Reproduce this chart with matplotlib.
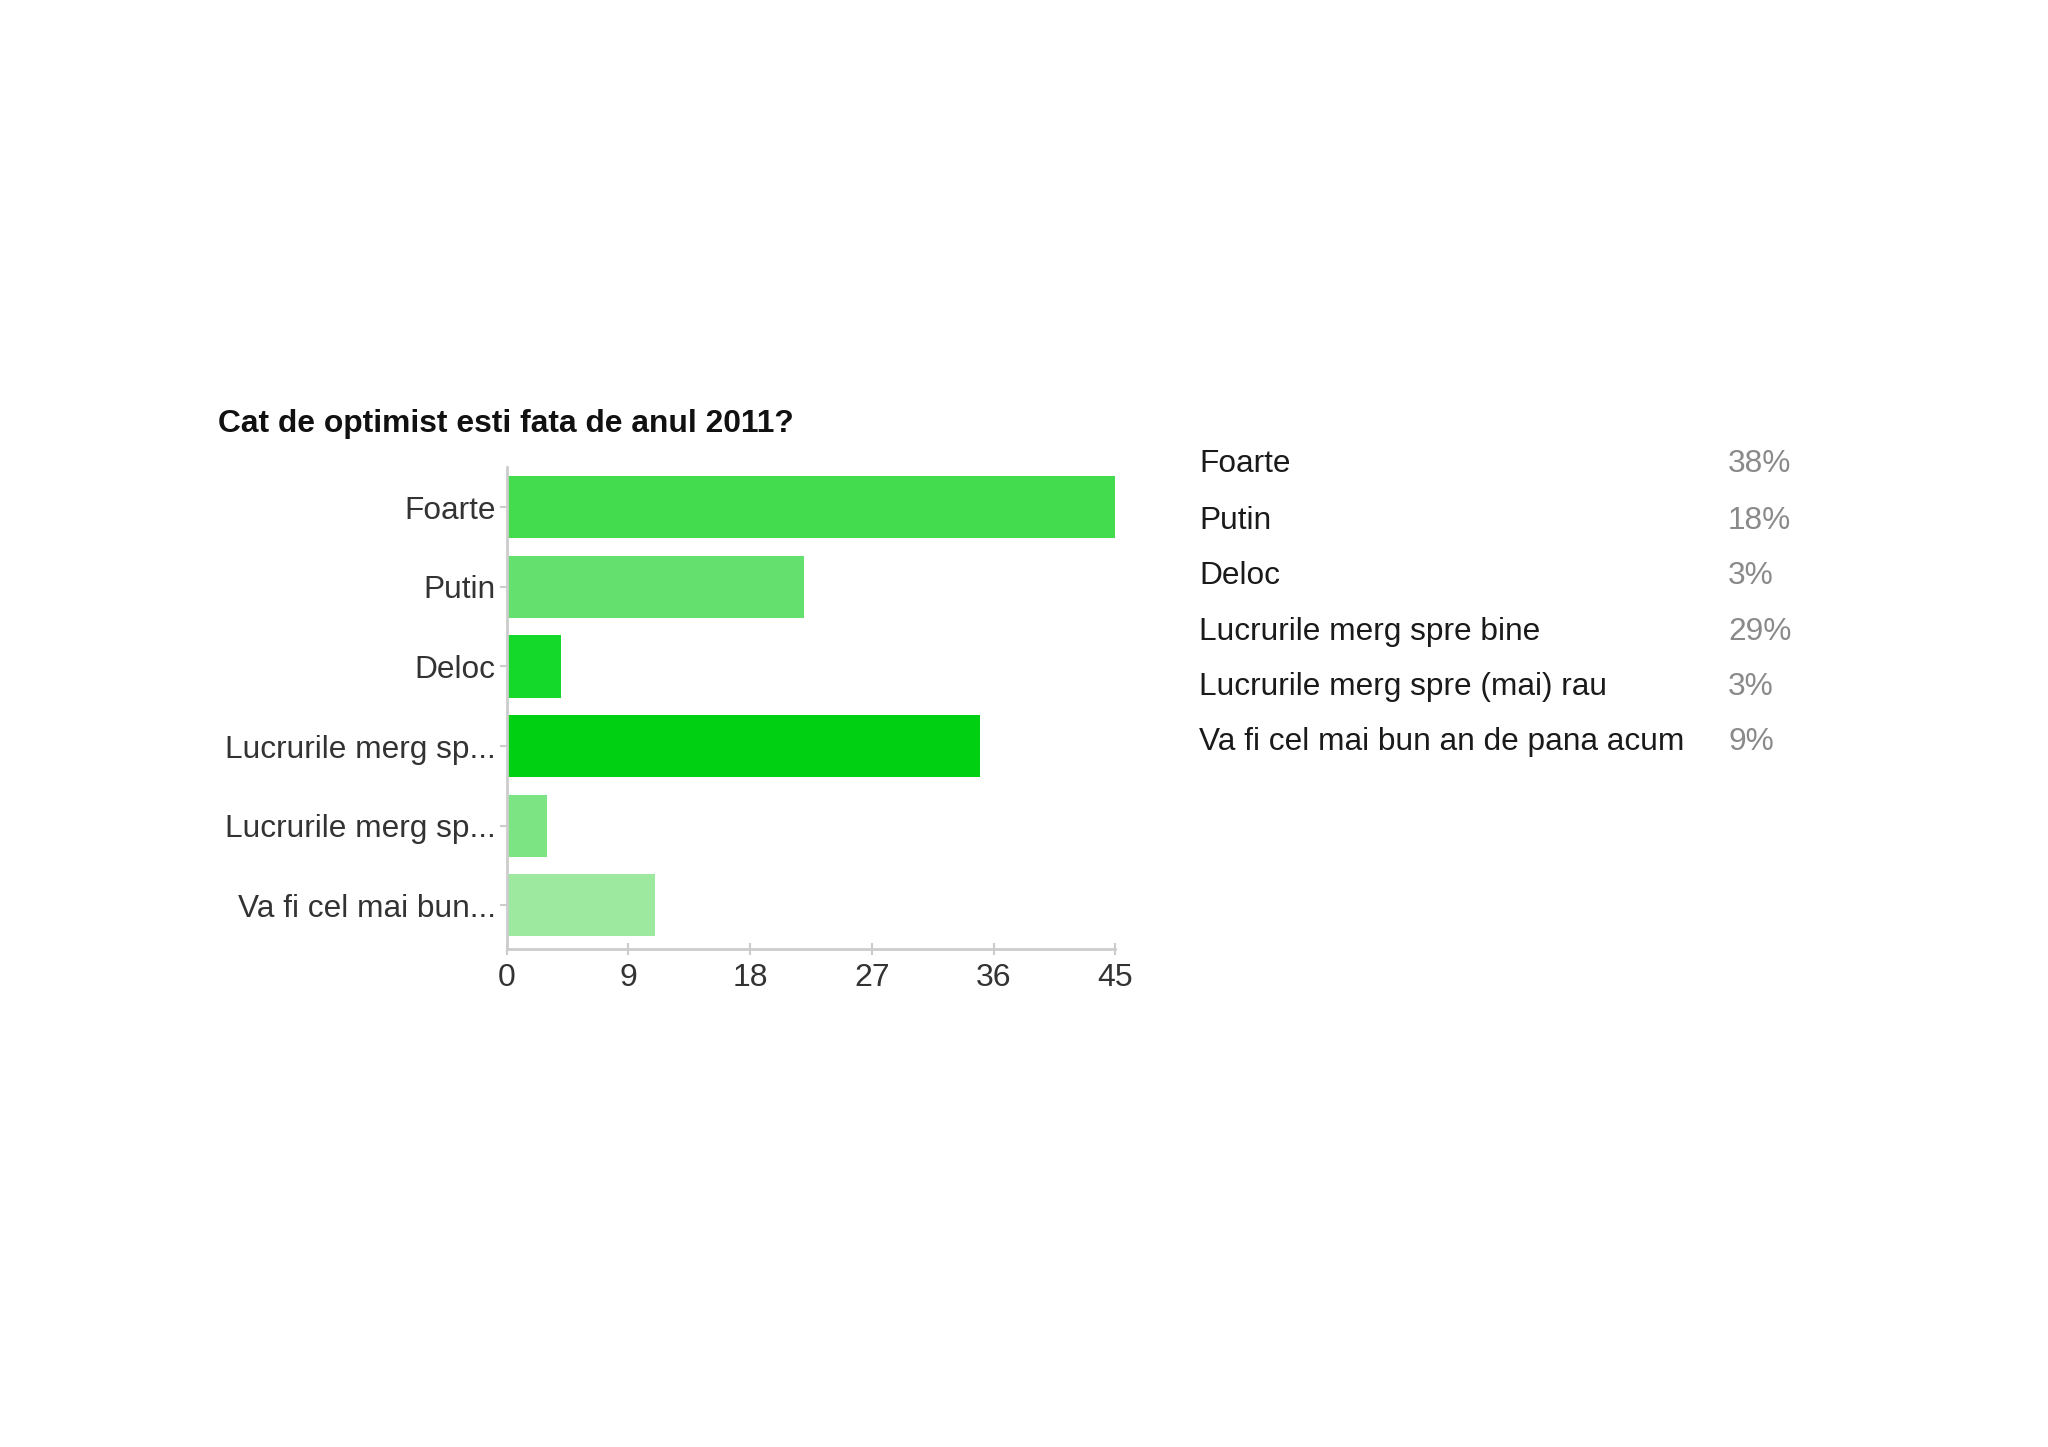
import matplotlib.pyplot as plt

# survey answers (short labels on the axis, full labels in the side legend)
categories = ["Foarte", "Putin", "Deloc", "Lucrurile merg sp...",
              "Lucrurile merg sp...", "Va fi cel mai bun..."]
full_labels = ["Foarte", "Putin", "Deloc", "Lucrurile merg spre bine",
               "Lucrurile merg spre (mai) rau", "Va fi cel mai bun an de pana acum"]
counts = [45, 22, 4, 35, 3, 11]
percents = ["38%", "18%", "3%", "29%", "3%", "9%"]
xticks = [0, 9, 18, 27, 36, 45]
colors = ["#42dc4e", "#63e06d", "#14d92a", "#00d012", "#7de484", "#9de9a0"]

plt.rcParams['font.family'] = ['Liberation Sans', 'DejaVu Sans']

fig = plt.figure(figsize=(20.48, 14.47), dpi=100)
fig.patch.set_facecolor('white')

ax = fig.add_axes([0.2474, 0.3440, 0.2972, 0.333])
ypos = list(range(len(categories)))
ax.barh(ypos, counts, height=0.78, color=colors, zorder=2)
ax.set_xlim(0, 45)
ax.set_ylim(len(categories) - 0.5 + 0.05, -0.5)
ax.set_yticks(ypos)
ax.set_yticklabels(categories, fontsize=22.8, color='#333333')
ax.set_xticks(xticks)
ax.set_xticklabels([str(t) for t in xticks], fontsize=23, color='#333333')

for side in ['top', 'right']:
    ax.spines[side].set_visible(False)
for side in ['left', 'bottom']:
    ax.spines[side].set_color('#cccccc')
    ax.spines[side].set_linewidth(2)
ax.tick_params(axis='y', length=5, width=1.5, color='#cccccc', pad=3)
ax.tick_params(axis='x', length=8, width=1.5, color='#cccccc', pad=6, direction='inout')

fig.text(0.1065, 0.7070, "Cat de optimist esti fata de anul 2011?", fontsize=22.9,
         fontweight='bold', color='#111111', va='center', ha='left')

# side legend with percentages
row_y = [0.6796, 0.6399, 0.6020, 0.5632, 0.5253, 0.4874]
for lbl, pct, y in zip(full_labels, percents, row_y):
    fig.text(0.5855, y, lbl, fontsize=22.8, color='#1a1a1a', va='center', ha='left')
    fig.text(0.8438, y, pct, fontsize=22.8, color='#8a8a8a', va='center', ha='left')

fig.savefig("out.png", dpi=100, facecolor='white')
